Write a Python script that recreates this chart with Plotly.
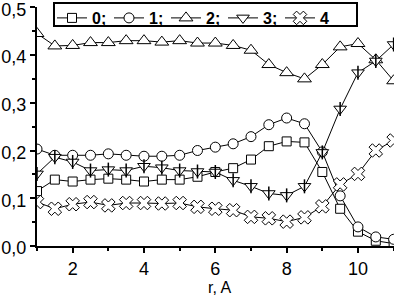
import plotly.graph_objects as go

r_values = [1, 1.5, 2, 2.5, 3, 3.5, 4, 4.5, 5, 5.5, 6, 6.5, 7, 7.5, 8, 8.5, 9, 9.5, 10, 10.5, 11]
series_names = ["0;", "1;", "2;", "3;", "4"]
s0 = [0.115, 0.139, 0.135, 0.139, 0.141, 0.139, 0.135, 0.139, 0.139, 0.145, 0.155, 0.163, 0.181, 0.209, 0.219, 0.217, 0.155, 0.078, 0.030, 0.011, 0.005]
s1 = [0.203, 0.190, 0.190, 0.190, 0.193, 0.190, 0.188, 0.188, 0.190, 0.200, 0.207, 0.214, 0.229, 0.254, 0.268, 0.256, 0.197, 0.105, 0.040, 0.019, 0.014]
s2 = [0.445, 0.419, 0.420, 0.426, 0.426, 0.430, 0.430, 0.427, 0.430, 0.425, 0.425, 0.420, 0.410, 0.380, 0.363, 0.350, 0.380, 0.417, 0.424, 0.390, 0.346]
s3 = [0.151, 0.186, 0.176, 0.158, 0.160, 0.158, 0.167, 0.164, 0.158, 0.156, 0.155, 0.1375, 0.125, 0.110, 0.106, 0.125, 0.196, 0.287, 0.363, 0.3875, 0.422]
s4 = [0.092, 0.078, 0.0875, 0.092, 0.085, 0.090, 0.090, 0.089, 0.090, 0.082, 0.078, 0.075, 0.061, 0.058, 0.051, 0.060, 0.083, 0.129, 0.151, 0.200, 0.221]

x_ticks = [2, 4, 6, 8, 10]
y_ticks = [0.0, 0.1, 0.2, 0.3, 0.4, 0.5]
x_title = "r, A"

series = [s0, s1, s2, s3, s4]
symbols = ["square", "circle", "triangle-up", "triangle-down", "x"]
sizes = [9, 10, 12, 11, 12]

W, H = 394, 295
ML, MR, MT, MB = 37, 0, 7, 49
PW, PH = W - ML - MR, H - MT - MB

def px_to_paper_x(px):
    return (px - ML) / PW

def px_to_paper_y(py):
    return (H - MB - py) / PH

fig = go.Figure()
for name, ys, sym, sz in zip(series_names, series, symbols, sizes):
    fig.add_trace(go.Scatter(
        x=r_values, y=ys, name=name, mode="lines+markers",
        line=dict(color="black", width=1),
        marker=dict(symbol=sym, size=sz, color="white", line=dict(color="black", width=1)),
    ))
# vertical stroke inside the down-triangle markers of series 3
fig.add_trace(go.Scatter(
    x=r_values, y=s3, mode="markers", showlegend=False, hoverinfo="skip",
    marker=dict(symbol="line-ns", size=10, line=dict(color="black", width=1.5)),
))

# legend frame
fig.add_shape(type="rect", xref="paper", yref="paper",
              x0=px_to_paper_x(54), x1=px_to_paper_x(357),
              y0=px_to_paper_y(26), y1=px_to_paper_y(3),
              line=dict(color="black", width=2), fillcolor="white", layer="above")

# x-axis title
fig.add_annotation(text=x_title, xref="paper", yref="paper",
                   x=px_to_paper_x(220), y=px_to_paper_y(297),
                   xanchor="center", yanchor="bottom", showarrow=False,
                   font=dict(size=16), borderpad=0)

fig.update_layout(
    width=W, height=H,
    margin=dict(l=ML, r=MR, t=MT, b=MB, autoexpand=False),
    paper_bgcolor="white", plot_bgcolor="white",
    separators=", ",
    font=dict(family="Liberation Sans, Arial, sans-serif", size=18, color="black"),
    legend=dict(
        orientation="h", x=px_to_paper_x(52), y=px_to_paper_y(1), xanchor="left", yanchor="top",
        borderwidth=0, bgcolor="rgba(0,0,0,0)",
        font=dict(size=16, weight="bold"),
        itemwidth=30, entrywidth=12, tracegroupgap=0,
    ),
    xaxis=dict(
        range=[1, 11.01], tickvals=x_ticks, showgrid=False, zeroline=False,
        automargin=False, ticklabeloverflow="allow",
        showline=True, linecolor="black", linewidth=2,
        ticks="outside", ticklen=5, tickwidth=1.5, tickcolor="black",
        minor=dict(dtick=1, tick0=0, ticks="outside", ticklen=3, tickcolor="black", tickwidth=1.5),
    ),
    yaxis=dict(
        range=[0, 0.5005], tickvals=y_ticks, tickformat=".1f", showgrid=False, zeroline=False,
        automargin=False, ticklabeloverflow="allow", ticklabelshift=2,
        showline=True, linecolor="black", linewidth=2,
        ticks="outside", ticklen=5, tickwidth=1.5, tickcolor="black",
        minor=dict(dtick=0.05, tick0=0, ticks="outside", ticklen=3, tickcolor="black", tickwidth=1.5),
    ),
)

fig.write_html("out.html", config={"displayModeBar": False},
               post_script="document.body.style.margin='0px';document.body.style.overflow='hidden';")
